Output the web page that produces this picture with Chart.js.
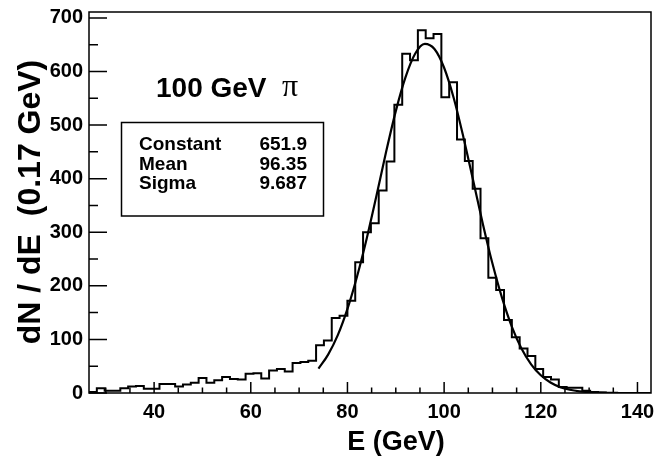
<!DOCTYPE html>
<html lang="en">
<head>
  <meta charset="UTF-8">
  <title>100 GeV pi</title>
  <script src="https://cdn.jsdelivr.net/npm/chart.js"></script>
  <style>
    html, body { margin: 0; padding: 0; background: #fff; }
    canvas { display: block; }
  </style>
</head>
<body>
  <canvas id="histChart" width="654" height="456"></canvas>
  <script>
    // histogram binning (GeV)
    const binStart = 26.53;
    const binWidth = 1.62;
    const counts = [
      2, 9, 4, 4, 9, 12, 13, 8, 8, 17,
      17, 12, 16, 19, 28, 19, 24, 30, 26, 25,
      36, 37, 27, 42, 45, 40, 56, 58, 60, 89,
      98, 140, 144, 172, 244, 300, 317, 378, 432, 538,
      633, 621, 677, 662, 670, 552, 580, 473, 433, 381,
      289, 215, 192, 136, 104, 83, 69, 45, 30, 25,
      11, 10, 10, 4, 2, 1, 0, 0, 0, 0,
      0, 0
    ];

    // fitted gaussian
    const fitE = [74, 76, 78, 80, 82, 84, 86, 88, 90, 92, 94, 96, 98, 100, 102, 104, 106,
                  108, 110, 112, 114, 116, 118, 120, 122, 124, 126, 128, 130, 132, 134, 136];
    const fitN = [45.5, 71.7, 108, 157, 218, 289, 368, 450, 526, 589, 633, 651.5, 642, 607, 550, 477, 397,
                  316, 241.5, 177, 124, 83, 53.6, 33, 19.6, 11, 6, 3.1, 1.6, 0.7, 0.3, 0.1];

    const statNames = ["Constant", "Mean", "Sigma"];
    const statValues = ["651.9", "96.35", "9.687"];

    const xTicks = [40, 60, 80, 100, 120, 140];
    const yTicks = [0, 100, 200, 300, 400, 500, 600, 700];

    const histPoints = counts.map((c, i) => ({ x: binStart + i * binWidth, y: c }));
    histPoints.push({ x: binStart + counts.length * binWidth, y: counts[counts.length - 1] });
    const fitPoints = fitE.map((e, i) => ({ x: e, y: fitN[i] }));

    const SANS = "'Liberation Sans', Arial, Helvetica, sans-serif";

    // ROOT style frame, inward ticks, titles and stats box
    const rootStyle = {
      id: 'rootStyle',
      afterDraw(chart) {
        const ctx = chart.ctx;
        const a = chart.chartArea;
        const xs = chart.scales.x, ys = chart.scales.y;
        ctx.save();
        ctx.strokeStyle = '#000';
        ctx.lineWidth = 1.5;
        ctx.strokeRect(a.left, a.top, a.right - a.left, a.bottom - a.top);

        ctx.beginPath();
        for (let v = 0; v <= 700; v += 50) {
          const y = ys.getPixelForValue(v);
          const len = v % 100 === 0 ? 18 : 9;
          ctx.moveTo(a.left, y); ctx.lineTo(a.left + len, y);
        }
        for (let v = 30; v <= 140; v += 5) {
          const x = xs.getPixelForValue(v);
          const len = v % 20 === 0 ? 11 : 5.5;
          ctx.moveTo(x, a.bottom); ctx.lineTo(x, a.bottom - len);
        }
        ctx.stroke();

        ctx.fillStyle = '#000';
        // axis titles
        ctx.font = 'bold 27px ' + SANS;
        ctx.textAlign = 'center';
        ctx.textBaseline = 'alphabetic';
        ctx.fillText('E (GeV)', 396, 450);

        ctx.save();
        ctx.translate(40, 202);
        ctx.rotate(-Math.PI / 2);
        ctx.font = 'bold 32px ' + SANS;
        ctx.fillText('dN / dE  (0.17 GeV)', 0, 0);
        ctx.restore();

        // label
        ctx.textAlign = 'left';
        ctx.font = 'bold 28px ' + SANS;
        ctx.fillText('100 GeV', 156, 97);
        ctx.font = "32px 'Liberation Serif', 'Times New Roman', serif";
        ctx.fillText('\u03c0', 282, 96);

        // stats box
        ctx.lineWidth = 1.5;
        ctx.strokeRect(121.5, 122.5, 202, 93.5);
        ctx.font = 'bold 19px ' + SANS;
        statNames.forEach((n, i) => {
          const y = 150 + i * 19.6;
          ctx.textAlign = 'left';
          ctx.fillText(n, 139, y);
          ctx.textAlign = 'right';
          ctx.fillText(statValues[i], 307, y);
        });
        ctx.restore();
      }
    };

    new Chart(document.getElementById('histChart'), {
      type: 'scatter',
      data: {
        datasets: [
          {
            label: 'hist',
            data: histPoints,
            showLine: true,
            stepped: true,
            borderColor: '#000',
            borderWidth: 2,
            pointRadius: 0,
            fill: false
          },
          {
            label: 'fit',
            data: fitPoints,
            showLine: true,
            cubicInterpolationMode: 'monotone',
            borderColor: '#000',
            borderWidth: 2.2,
            pointRadius: 0,
            fill: false
          }
        ]
      },
      options: {
        responsive: false,
        animation: false,
        devicePixelRatio: 1,
        layout: { padding: { top: 12, right: 3, left: 0, bottom: 0 } },
        plugins: { legend: { display: false }, tooltip: { enabled: false } },
        scales: {
          x: {
            type: 'linear',
            min: binStart,
            max: 142.8,
            grid: { display: false, drawTicks: false },
            border: { display: false },
            afterBuildTicks: (s) => { s.ticks = xTicks.map(v => ({ value: v })); },
            afterFit: (s) => { s.height = 63; s.paddingLeft = 0; s.paddingRight = 0; },
            ticks: {
              padding: 7,
              color: '#000',
              maxRotation: 0,
              font: { family: SANS, size: 20, weight: 'bold' }
            }
          },
          y: {
            min: 0,
            max: 711,
            grid: { display: false, drawTicks: false },
            border: { display: false },
            afterBuildTicks: (s) => { s.ticks = yTicks.map(v => ({ value: v })); },
            afterFit: (s) => { s.width = 89; s.paddingTop = 0; s.paddingBottom = 0; },
            ticks: {
              padding: 6,
              color: '#000',
              font: { family: SANS, size: 20, weight: 'bold' }
            }
          }
        }
      },
      plugins: [rootStyle]
    });
  </script>
</body>
</html>
